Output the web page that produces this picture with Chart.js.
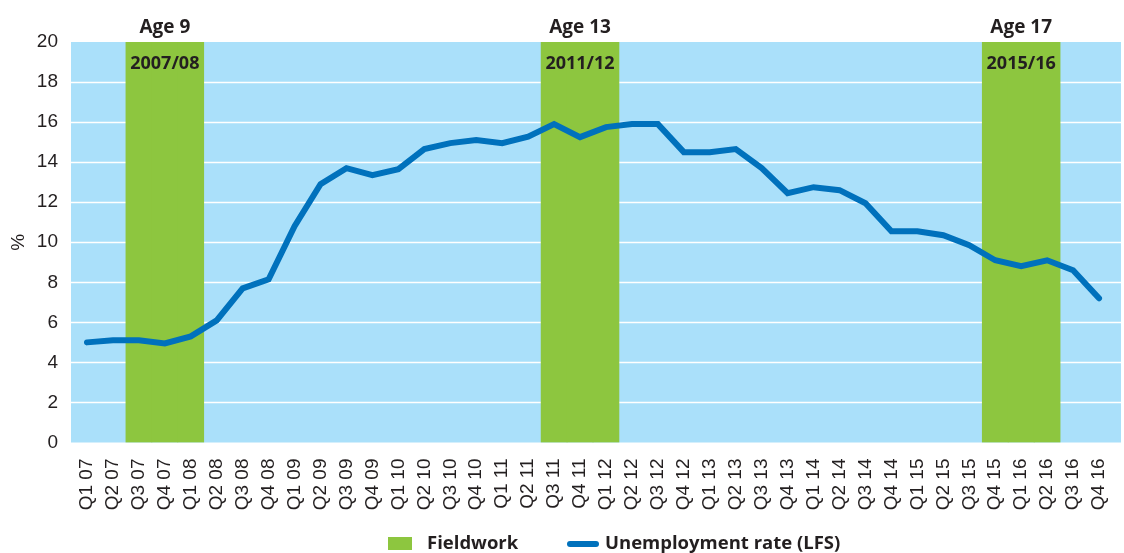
<!DOCTYPE html>
<html>
<head>
<meta charset="utf-8">
<script src="https://cdn.jsdelivr.net/npm/chart.js@4"></script>
<style>
  html, body { margin: 0; padding: 0; background: #ffffff; }
  #wrap { width: 1124px; height: 553px; }
</style>
</head>
<body>
<div id="wrap"><canvas id="c" width="1124" height="553"></canvas></div>
<script>
// ---------- data ----------
const categories = ['Q1 07','Q2 07','Q3 07','Q4 07','Q1 08','Q2 08','Q3 08','Q4 08','Q1 09','Q2 09',
  'Q3 09','Q4 09','Q1 10','Q2 10','Q3 10','Q4 10','Q1 11','Q2 11','Q3 11','Q4 11',
  'Q1 12','Q2 12','Q3 12','Q4 12','Q1 13','Q2 13','Q3 13','Q4 13','Q1 14','Q2 14',
  'Q3 14','Q4 14','Q1 15','Q2 15','Q3 15','Q4 15','Q1 16','Q2 16','Q3 16','Q4 16'];

const unemploymentRate = [5.0, 5.1, 5.1, 4.95, 5.3, 6.1, 7.7, 8.15, 10.8, 12.9,
  13.7, 13.35, 13.65, 14.65, 14.95, 15.1, 14.95, 15.27, 15.9, 15.25,
  15.75, 15.9, 15.9, 14.5, 14.5, 14.65, 13.7, 12.45, 12.75, 12.6,
  11.95, 10.55, 10.55, 10.35, 9.85, 9.1, 8.8, 9.1, 8.6, 7.2];

const fieldwork = [null, null, 20, 20, 20, null, null, null, null, null,
  null, null, null, null, null, null, null, null, 20, 20,
  20, null, null, null, null, null, null, null, null, null,
  null, null, null, null, null, 20, 20, 20, null, null];

const fieldworkCentres = ['Q4 07', 'Q4 11', 'Q1 16'];
const fieldworkAges = ['Age 9', 'Age 13', 'Age 17'];
const fieldworkYears = ['2007/08', '2011/12', '2015/16'];

const yTicks = [0, 2, 4, 6, 8, 10, 12, 14, 16, 18, 20];
const yAxisTitle = '%';
const seriesNames = ['Fieldwork', 'Unemployment rate (LFS)'];

// ---------- styles ----------
const TEXT = '#231f20';
const BG_BLUE = '#aae0fa';
const GREEN = '#8dc63f';
const LINE_BLUE = '#0071bc';
const SANS = '"Liberation Sans", Arial, sans-serif';
const BOLD = '"Open Sans", "Noto Sans", sans-serif';

const backdrop = {
  id: 'backdrop',
  beforeDatasetsDraw(chart) {
    const {ctx, chartArea, scales} = chart;
    const left = chartArea.left - 3, right = chartArea.right + 9;
    ctx.save();
    ctx.fillStyle = BG_BLUE;
    ctx.fillRect(left, chartArea.top, right - left, chartArea.bottom - chartArea.top);
    ctx.strokeStyle = '#ffffff';
    ctx.lineWidth = 1.6;
    yTicks.forEach(v => {
      if (v === 0 || v === 20) return;
      const y = Math.round(scales.y.getPixelForValue(v)) + 0.5;
      ctx.beginPath();
      ctx.moveTo(left, y);
      ctx.lineTo(right, y);
      ctx.stroke();
    });
    ctx.restore();
  },
  afterDatasetsDraw(chart) {
    const {ctx, chartArea, scales} = chart;
    ctx.save();
    ctx.fillStyle = TEXT;
    ctx.textAlign = 'center';
    ctx.textBaseline = 'middle';
    fieldworkCentres.forEach((c, i) => {
      const x = scales.x.getPixelForValue(categories.indexOf(c));
      ctx.font = 'bold 19px ' + BOLD;
      ctx.fillText(fieldworkAges[i], x, chartArea.top - 14);
      ctx.font = 'bold 18px ' + BOLD;
      ctx.fillText(fieldworkYears[i], x, chartArea.top + 22);
    });
    ctx.restore();
  },
  afterDraw(chart) {
    const {ctx} = chart;
    const y = 544;
    ctx.save();
    ctx.fillStyle = GREEN;
    ctx.fillRect(388, y - 7, 24, 13);
    ctx.fillStyle = TEXT;
    ctx.font = 'bold 18.5px ' + BOLD;
    ctx.textAlign = 'left';
    ctx.textBaseline = 'middle';
    ctx.fillText(seriesNames[0], 427, y);
    ctx.strokeStyle = LINE_BLUE;
    ctx.lineWidth = 6;
    ctx.lineCap = 'round';
    ctx.beginPath();
    ctx.moveTo(570, y);
    ctx.lineTo(596, y);
    ctx.stroke();
    ctx.fillText(seriesNames[1], 605, y);
    ctx.restore();
  }
};

new Chart(document.getElementById('c'), {
  data: {
    labels: categories,
    datasets: [
      {
        type: 'line',
        label: seriesNames[1],
        data: unemploymentRate,
        borderColor: LINE_BLUE,
        borderWidth: 6,
        borderCapStyle: 'round',
        pointRadius: 0,
        tension: 0,
        order: 0
      },
      {
        type: 'bar',
        label: seriesNames[0],
        data: fieldwork,
        backgroundColor: GREEN,
        borderWidth: 0,
        barPercentage: 1,
        categoryPercentage: 1,
        order: 1
      }
    ]
  },
  options: {
    responsive: false,
    devicePixelRatio: 1,
    animation: false,
    layout: { padding: { top: 42, right: 12, bottom: 0, left: 0 } },
    plugins: {
      legend: { display: false },
      tooltip: { enabled: false }
    },
    scales: {
      x: {
        type: 'category',
        offset: true,
        grid: { display: false, drawTicks: false },
        border: { display: false },
        ticks: {
          autoSkip: false,
          maxRotation: 90,
          minRotation: 90,
          padding: 16,
          color: TEXT,
          font: { family: SANS, size: 19 }
        },
        afterFit(scale) {
          scale.height = 110.5;
          scale.paddingLeft = 0;
          scale.paddingRight = 0;
        }
      },
      y: {
        min: 0,
        max: 20,
        afterBuildTicks(scale) { scale.ticks = yTicks.map(v => ({ value: v })); },
        grid: { display: false, drawTicks: false },
        border: { display: false },
        ticks: {
          padding: 16,
          color: TEXT,
          font: { family: SANS, size: 19 }
        },
        title: {
          display: true,
          text: yAxisTitle,
          color: TEXT,
          font: { family: SANS, size: 19 },
          padding: { top: 7, bottom: 0 }
        },
        afterFit(scale) {
          scale.width = 74;
          scale.paddingTop = 0;
          scale.paddingBottom = 0;
        }
      }
    }
  },
  plugins: [backdrop]
});
</script>
</body>
</html>
